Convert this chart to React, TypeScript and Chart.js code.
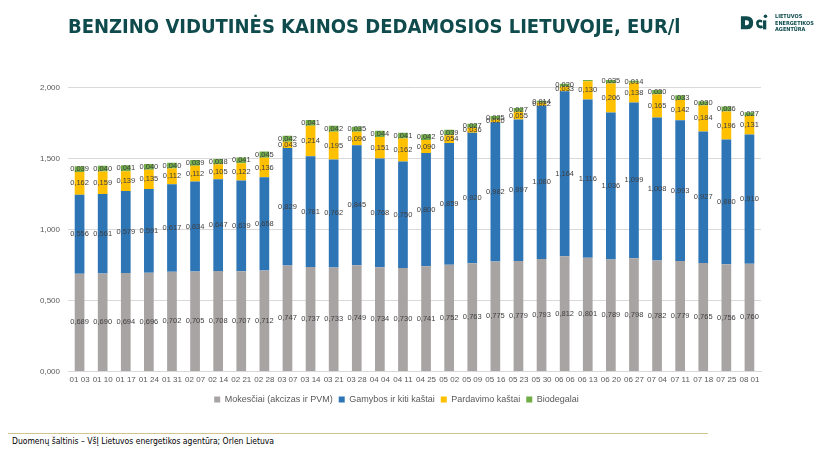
import React, { useEffect, useRef } from "react";
import { Chart, registerables } from "chart.js";

Chart.register(...registerables);

const categories = ["01 03","01 10","01 17","01 24","01 31","02 07","02 14","02 21","02 28","03 07","03 14","03 21","03 28","04 04","04 11","04 25","05 02","05 09","05 16","05 23","05 30","06 06","06 13","06 20","06 27","07 04","07 11","07 18","07 25","08 01"];

const taxes = [0.689,0.690,0.694,0.696,0.702,0.705,0.708,0.707,0.712,0.747,0.737,0.733,0.749,0.734,0.730,0.741,0.752,0.763,0.775,0.779,0.793,0.812,0.801,0.789,0.798,0.782,0.779,0.765,0.756,0.760];
const production = [0.556,0.561,0.579,0.591,0.617,0.634,0.647,0.639,0.658,0.829,0.781,0.762,0.845,0.768,0.750,0.800,0.859,0.920,0.982,0.997,1.080,1.164,1.116,1.036,1.099,1.008,0.993,0.927,0.880,0.910];
const sales = [0.162,0.159,0.139,0.135,0.112,0.112,0.105,0.122,0.136,0.043,0.214,0.195,0.096,0.151,0.162,0.090,0.054,0.036,0.020,0.055,0.022,0.033,0.130,0.206,0.138,0.165,0.142,0.184,0.196,0.131];
const biofuel = [0.039,0.040,0.041,0.040,0.040,0.039,0.038,0.041,0.045,0.042,0.041,0.042,0.035,0.044,0.041,0.042,0.039,0.027,0.025,0.027,0.014,0.020,0.020,0.035,0.014,0.030,0.033,0.030,0.036,0.027];

const seriesNames = ["Mokesčiai (akcizas ir PVM)", "Gamybos ir kiti kaštai", "Pardavimo kaštai", "Biodegalai"];
const yTicks = [0, 0.5, 1.0, 1.5, 2.0];

const fmt = (v: number) => v.toFixed(3).replace(".", ",");
const FONT = "'Liberation Sans', Arial, sans-serif";

const labelPlugin = {
  id: "segLabels",
  afterDatasetsDraw(chart: any) {
    const ctx = chart.ctx;
    const area = chart.chartArea;
    ctx.save();
    ctx.font = "7.5px " + FONT;
    ctx.fillStyle = "#404040";
    ctx.textAlign = "center";
    ctx.textBaseline = "middle";
    chart.data.datasets.forEach((ds: any, di: number) => {
      const meta = chart.getDatasetMeta(di);
      meta.data.forEach((el: any, i: number) => {
        const cy = (el.y + el.base) / 2;
        if (cy < area.top) return;
        ctx.fillText(fmt(ds.data[i]), el.x, cy);
      });
    });
    ctx.restore();
  },
};

function ChartBox() {
  const ref = useRef<HTMLCanvasElement>(null);
  useEffect(() => {
    const colors = ["#a9a4a4", "#2e75b6", "#ffc000", "#70ad47"];
    const data = [taxes, production, sales, biofuel];
    const chart = new Chart(ref.current!, {
      type: "bar",
      data: {
        labels: categories,
        datasets: data.map((d, i) => ({
          label: seriesNames[i],
          data: d,
          backgroundColor: colors[i],
          borderWidth: 0,
          barPercentage: 0.42,
          categoryPercentage: 1,
        })),
      },
      options: {
        animation: false,
        responsive: false,
        maintainAspectRatio: false,
        layout: { padding: { left: 32, right: 59, top: 80, bottom: 0 } },
        scales: {
          x: {
            stacked: true,
            grid: { display: false, drawTicks: false },
            border: { color: "#d9d9d9" },
            ticks: { color: "#595959", font: { size: 8, family: FONT }, maxRotation: 0, autoSkip: false, padding: 4 },
          },
          y: {
            stacked: true,
            min: 0,
            max: 2.055,
            afterBuildTicks: (axis: any) => {
              axis.ticks = yTicks.map((v) => ({ value: v }));
            },
            grid: { color: "#d9d9d9", drawTicks: false },
            border: { display: false },
            ticks: {
              color: "#595959",
              font: { size: 8, family: FONT },
              padding: 8,
              callback: (v: any) => fmt(Number(v)),
            },
          },
        },
        plugins: {
          legend: {
            position: "bottom",
            labels: {
              boxWidth: 6,
              boxHeight: 6,
              padding: 6,
              color: "#595959",
              font: { size: 9, family: FONT },
            },
          },
          tooltip: { enabled: false },
        },
      },
      plugins: [labelPlugin],
    });
    return () => chart.destroy();
  }, []);
  return <canvas ref={ref} width={820} height={414} style={{ position: "absolute", left: 0, top: 0 }} />;
}

export default function App() {
  useEffect(() => {
    document.body.style.margin = "0";
  }, []);
  const narrow = "'Liberation Sans Narrow', 'DejaVu Sans Condensed', 'Liberation Sans', sans-serif";
  return (
    <div style={{ position: "relative", width: 820, height: 461, background: "#fff", overflow: "hidden" }}>
      <ChartBox />
      <div style={{ position: "absolute", left: 68, top: 14, fontFamily: narrow, fontWeight: "bold", fontSize: 20, color: "#0f4b4c", whiteSpace: "nowrap" }}>
        BENZINO VIDUTINĖS KAINOS DEDAMOSIOS LIETUVOJE, EUR/l
      </div>
      <svg style={{ position: "absolute", left: 738, top: 13 }} width={32} height={18} viewBox="0 0 34 22">
        <path d="M1 4 L8 4 Q16 4 16 12 Q16 20 8 20 L1 20 Z M6 9 L6 15 L8 15 Q11 15 11 12 Q11 9 8 9 Z" fill="#0f4b4c" fillRule="evenodd" />
        <path d="M27 9 Q24 7 21 9 Q18 12 21 17 Q24 20 28 18 L27 15 Q24 16 23 14 Q22 12 24 11 Q26 11 27 12 Z" fill="#0f4b4c" />
        <rect x={28} y={9} width={4} height={11} fill="#0f4b4c" />
        <circle cx={31} cy={4} r={2.2} fill="#0f4b4c" />
      </svg>
      <div style={{ position: "absolute", left: 775, top: 13, fontFamily: narrow, fontWeight: "bold", fontSize: 5.5, lineHeight: "6.5px", color: "#0f4b4c" }}>
        LIETUVOS<br />ENERGETIKOS<br />AGENTŪRA
      </div>
      <div style={{ position: "absolute", left: 8, top: 433, width: 700, height: 1, background: "#d3c48c" }} />
      <div style={{ position: "absolute", left: 12, top: 436, fontFamily: narrow, fontSize: 8.5, color: "#000", whiteSpace: "nowrap" }}>
        Duomenų šaltinis – VšĮ Lietuvos energetikos agentūra; Orlen Lietuva
      </div>
    </div>
  );
}
